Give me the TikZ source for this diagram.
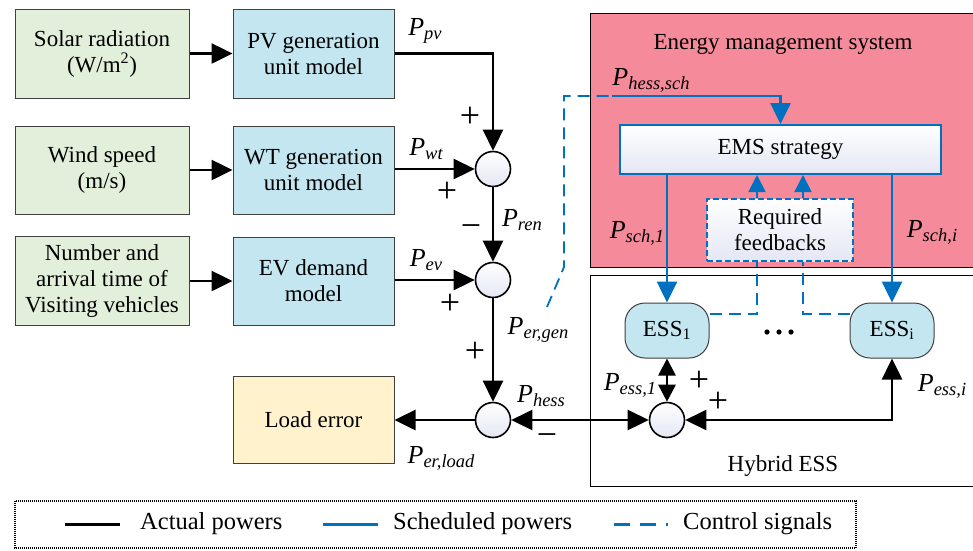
\documentclass[tikz,border=0pt]{standalone}
\usepackage{fontspec}
\setmainfont{Liberation Serif}
\usetikzlibrary{arrows.meta}
\definecolor{grn}{HTML}{E2EFDA}
\definecolor{cyanb}{HTML}{C3E6F0}
\definecolor{yel}{HTML}{FFF2CC}
\definecolor{pnk}{HTML}{F58A9B}
\definecolor{bl}{HTML}{0070C0}
\definecolor{lav}{HTML}{E4E7F4}
\definecolor{edge}{HTML}{404040}
\newcommand{\pw}[1]{{\fontsize{26}{26}\selectfont\itshape P\raisebox{-0.35ex}{\fontsize{18.5}{18.5}\selectfont #1}}}
\newcommand{\sgn}[1]{{\fontsize{36}{36}\selectfont #1}}
\begin{document}
\begin{tikzpicture}[x=1pt,y=-1pt,
  font=\fontsize{23}{26}\selectfont,
  arr/.style={-{Triangle[length=21pt,width=20pt]}},
  darr/.style={{Triangle[length=21pt,width=20pt]}-{Triangle[length=21pt,width=20pt]}},
  sdarr/.style={{Triangle[length=17pt,width=17pt]}-{Triangle[length=17pt,width=17pt]}},
  sarr/.style={-{Triangle[length=17pt,width=17pt]}},
  inbox/.style={draw=edge, line width=1pt, fill=grn, minimum width=174pt, minimum height=89pt, align=center, inner sep=0pt},
  modbox/.style={draw=edge, line width=1pt, fill=cyanb, minimum width=161pt, minimum height=88pt, align=center, inner sep=0pt},
  sum/.style={circle, draw=black, line width=1.6pt, minimum size=35pt, inner sep=0pt, top color=white, bottom color=lav},
  pow/.style={draw=black, line width=2.6pt},
  sch/.style={draw=bl, line width=2.6pt},
  ctl/.style={draw=bl, line width=1.8pt, dash pattern=on 12pt off 7pt},
  essbox/.style={draw=edge, line width=1pt, fill=cyanb, rounded corners=20pt, minimum width=84pt, minimum height=55pt, inner sep=0pt},
  lbl/.style={inner sep=0pt}
]
\useasboundingbox (0,0) rectangle (973,550);

% big containers
\draw[draw=black, line width=1pt, fill=pnk] (590,13) rectangle (990,267);
\draw[draw=black, line width=1pt, fill=white] (590,275) rectangle (990,486);
\node[lbl] (emslbl) at (783,44) {Energy management system};
\node[lbl] (hesslbl) at (783,466) {Hybrid ESS};

% input and model boxes
\node[inbox] (g1) at (102,53.5) {Solar radiation\\(W/m\textsuperscript{2})};
\node[modbox, minimum height=89pt] (b1) at (313.5,53.5) {PV generation\\unit model};
\node[inbox, minimum height=88pt] (g2) at (102,170) {Wind speed\\(m/s)};
\node[modbox] (b2) at (313.5,170) {WT generation\\unit model};
\node[inbox] (g3) at (102,281) {Number and\\arrival time of\\Visiting vehicles};
\node[modbox] (b3) at (313.5,281) {EV demand\\model};
\node[modbox, fill=yel, minimum height=87pt] (load) at (313.5,420) {Load error};

% summing junctions
\node[sum] (s1) at (493,169) {};
\node[sum] (s2) at (493,280) {};
\node[sum] (s3) at (493,420) {};
\node[sum] (s4) at (667,420) {};

% EMS parts
\node[draw=bl, line width=2pt, top color=white, bottom color=lav, minimum width=321pt, minimum height=49pt, inner sep=0pt] (ems) at (780.5,149.5) {EMS strategy};
\node[draw=bl, line width=1.5pt, dash pattern=on 6pt off 3pt, top color=white, bottom color=lav, minimum width=146pt, minimum height=62pt, align=center, inner sep=0pt] (fb) at (780,230) {Required\\feedbacks};
\node[essbox] (ess1) at (667,330.5) {ESS\textsubscript{1}};
\node[essbox] (essi) at (892,330.5) {ESS\textsubscript{i}};
\fill (767,332) circle (2.6pt) (779,332) circle (2.6pt) (791,332) circle (2.6pt);

% actual power connectors
\draw[pow,arr] (g1.east) -- (b1.west);
\draw[pow,arr] (g2.east) -- (b2.west);
\draw[pow,arr] (g3.east) -- (b3.west);
\draw[pow,arr] (b1.east) -| (s1.north);
\draw[pow,arr] (s1.west -| b2.east) -- (s1.west);
\draw[pow,arr] (s2.west -| b3.east) -- (s2.west);
\draw[pow,arr] (s1.south) -- (s2.north);
\draw[pow,arr] (s2.south) -- (s3.north);
\draw[pow,arr] (s3.west) -- (load.east);
\draw[pow,darr] (s3.east) -- (s4.west);
\draw[pow,sdarr] (s4.north) -- (ess1.south);
\draw[pow,darr] (s4.east) -| (essi.south);

% scheduled powers
\coordinate (c0) at (547,307);
\coordinate (c1) at (564,267);
\coordinate (c2) at (564,96);
\coordinate (c3) at (612,96);
\draw[ctl] (c0) -- (c1) -- (c2) -- (c3);
\draw[sch,arr] (c3) -| (ems.north);
\draw[sch,arr] (ess1.north |- ems.south) -- (ess1.north);
\draw[sch,arr] (essi.north |- ems.south) -- (essi.north);

% control signals
\draw[ctl,sarr] ([xshift=-23pt]fb.north) -- ([xshift=-23pt]fb.north |- ems.south);
\draw[ctl,sarr] ([xshift=23pt]fb.north) -- ([xshift=23pt]fb.north |- ems.south);
\draw[ctl] ([yshift=16.5pt]ess1.east) -| ([xshift=-23pt]fb.south);
\draw[ctl] ([yshift=16.5pt]essi.west) -| ([xshift=23pt]fb.south);

% labels
\node[lbl] (lpv) at (425,31) {\pw{pv}};
\node[lbl] (lwt) at (426,149) {\pw{wt}};
\node[lbl] (lev) at (426,260) {\pw{ev}};
\node[lbl] (lren) at (522,220) {\pw{ren}};
\node[lbl] (lergen) at (538,330) {\pw{er,gen}};
\node[lbl] (lhess) at (541,396) {\pw{hess}};
\node[lbl] (lerload) at (441,458) {\pw{er,load}};
\node[lbl] (lhsch) at (651,80) {\pw{hess,sch}};
\node[lbl] (lsch1) at (637,233) {\pw{sch,1}};
\node[lbl] (lschi) at (932,232) {\pw{sch,i}};
\node[lbl] (less1) at (630,385) {\pw{ess,1}};
\node[lbl] (lessi) at (942,386) {\pw{ess,i}};

% signs
\node[lbl] (p1) at (470,117) {\sgn{+}};
\node[lbl] (p2) at (447,192) {\sgn{+}};
\node[lbl] (m1) at (471,231) {\sgn{−}};
\node[lbl] (p3) at (450,304) {\sgn{+}};
\node[lbl] (p4) at (475,352) {\sgn{+}};
\node[lbl] (m2) at (547,440) {\sgn{−}};
\node[lbl] (p5) at (699,381) {\sgn{+}};
\node[lbl] (p6) at (718,402) {\sgn{+}};

% legend
\draw[line width=1.2pt, dash pattern=on 1pt off 1pt] (15,501) rectangle (856,548);
\draw[black, line width=3pt] (65,524) -- (120,524);
\node[lbl, anchor=west, font=\fontsize{24.5}{26}\selectfont] (la) at (140,524) {Actual powers};
\draw[bl, line width=3pt] (323,524) -- (378,524);
\node[lbl, anchor=west, font=\fontsize{24.5}{26}\selectfont] (ls) at (393,524) {Scheduled powers};
\draw[bl, line width=3pt, dash pattern=on 16pt off 10pt on 16pt off 10pt on 2pt off 100pt] (614,524) -- (668,524);
\node[lbl, anchor=west, font=\fontsize{24.5}{26}\selectfont] (lc) at (683,524) {Control signals};
\end{tikzpicture}
\end{document}
